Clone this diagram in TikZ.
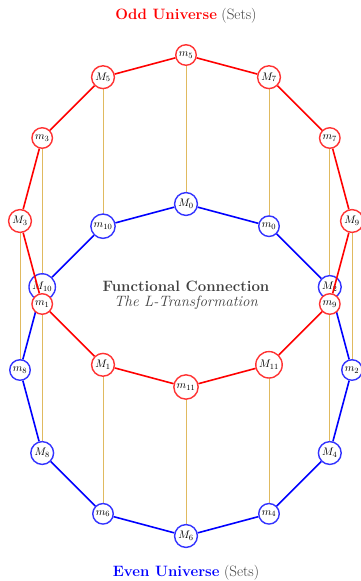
\documentclass[tikz,border=0pt]{standalone}
\usetikzlibrary{calc}
\pgfdeclarelayer{gold}
\pgfdeclarelayer{bedges}
\pgfdeclarelayer{bnodes}
\pgfdeclarelayer{redges}
\pgfsetlayers{gold,bedges,bnodes,redges,main}
\definecolor{goldline}{RGB}{224,186,96}
\definecolor{txtgray}{RGB}{64,64,64}
\tikzset{
  rnode/.style={circle,draw=red!80,fill=white,line width=1.4pt,inner sep=1.8pt,font=\fontsize{11}{12}\selectfont},
  bnode/.style={circle,draw=blue!80,fill=white,line width=1.4pt,inner sep=1.8pt,font=\fontsize{11}{12}\selectfont},
  redge/.style={red,line width=1.6pt},
  bedge/.style={blue,line width=1.6pt},
  gline/.style={goldline,line width=0.8pt},
  title/.style={font=\fontsize{15}{17}\selectfont,text=txtgray}
}
\begin{document}
\begin{tikzpicture}[x=1pt,y=-1pt]
\useasboundingbox (0,0) rectangle (360,581);
% red (odd) nodes
\node[rnode] (m5)  at (186,55)    {$m_5$};
\node[rnode] (M7)  at (269,77.2)  {$M_7$};
\node[rnode] (m7)  at (329.8,138) {$m_7$};
\node[rnode] (M9)  at (352,221)   {$M_9$};
\node[rnode] (m9)  at (329.8,304) {$m_9$};
\node[rnode] (M11) at (269,364.8) {$M_{11}$};
\node[rnode] (m11) at (186,387)   {$m_{11}$};
\node[rnode] (M1)  at (103,364.8) {$M_1$};
\node[rnode] (m1)  at (42.2,304)  {$m_1$};
\node[rnode] (M3)  at (20,221)    {$M_3$};
\node[rnode] (m3)  at (42.2,138)  {$m_3$};
\node[rnode] (M5)  at (103,77.2)  {$M_5$};
% blue (even) nodes
\begin{pgfonlayer}{bnodes}
\node[bnode] (M0)  at (186,204)   {$M_0$};
\node[bnode] (m0)  at (269,226.2) {$m_0$};
\node[bnode] (M2)  at (329.8,287) {$M_2$};
\node[bnode] (m2)  at (352,370)   {$m_2$};
\node[bnode] (M4)  at (329.8,453) {$M_4$};
\node[bnode] (m4)  at (269,513.8) {$m_4$};
\node[bnode] (M6)  at (186,536)   {$M_6$};
\node[bnode] (m6)  at (103,513.8) {$m_6$};
\node[bnode] (M8)  at (42.2,453)  {$M_8$};
\node[bnode] (m8)  at (20,370)    {$m_8$};
\node[bnode] (M10) at (42.2,287)  {$M_{10}$};
\node[bnode] (m10) at (103,226.2) {$m_{10}$};
\end{pgfonlayer}
% red edges
\begin{pgfonlayer}{redges}
\draw[redge] (m5) -- (M7) -- (m7) -- (M9) -- (m9) -- (M11) -- (m11) -- (M1) -- (m1) -- (M3) -- (m3) -- (M5) -- (m5);
\end{pgfonlayer}
% blue edges
\begin{pgfonlayer}{bedges}
\draw[bedge] (M0) -- (m0) -- (M2) -- (m2) -- (M4) -- (m4) -- (M6) -- (m6) -- (M8) -- (m8) -- (M10) -- (m10) -- (M0);
\end{pgfonlayer}
% golden vertical connections
\begin{pgfonlayer}{gold}
\foreach \a/\b in {m5/M0,M7/m0,m7/M2,M9/m2,m9/M4,M11/m4,m11/M6,M1/m6,m1/M8,M3/m8,m3/M10,M5/m10}
  \draw[gline] (\a.center) -- (\b.center);
\end{pgfonlayer}
% titles
\node[title] (top) at (186,16) {\textcolor{red}{\bfseries Odd Universe} (Sets)};
\node[title] (bot) at (186,573) {\textcolor{blue}{\bfseries Even Universe} (Sets)};
\node[title] (fc) at (186,286) {\bfseries Functional Connection};
\node[title] (lt) at (186,303) {\itshape The L-Transformation};
\end{tikzpicture}
\end{document}
